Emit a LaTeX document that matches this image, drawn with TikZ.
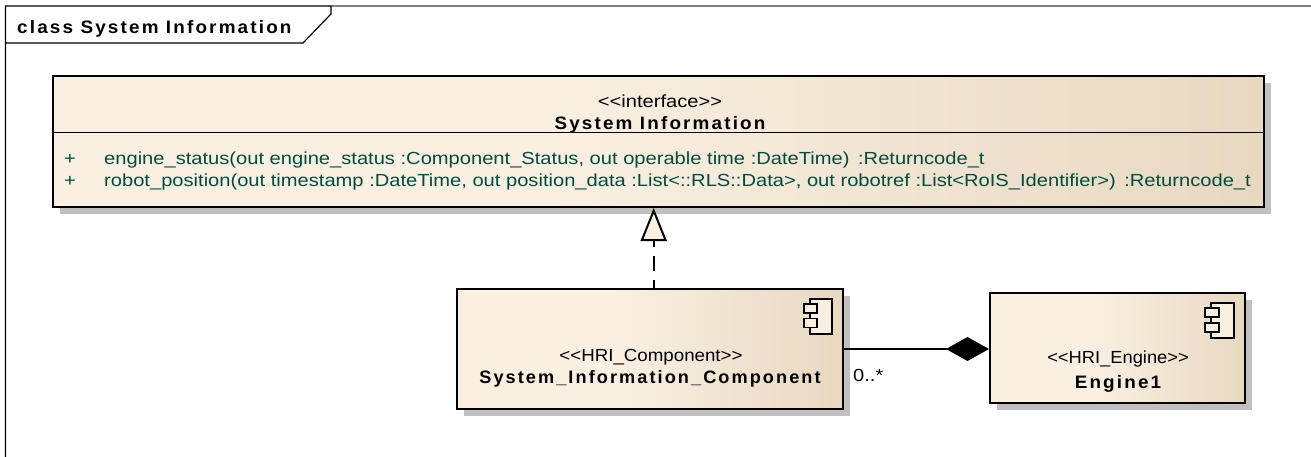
\documentclass[tikz,border=0pt]{standalone}
\usepackage{graphicx}
\usepackage{fontspec}
\setmainfont{Liberation Sans}
\newfontfamily\bodystretch[FakeStretch=1.15]{Liberation Sans}
\newfontfamily\boldspaced[LetterSpace=12,FakeStretch=1.05]{Liberation Sans Bold}
\usetikzlibrary{arrows.meta,shadows}
\definecolor{cream}{HTML}{FAF0E2}
\definecolor{tan}{HTML}{E8D8C0}
\definecolor{shadowgray}{HTML}{C0C0C0}
\definecolor{optext}{HTML}{004D40}
\definecolor{framegray}{HTML}{808080}
\pgfdeclarehorizontalshading{umlfill}{100bp}{color(0bp)=(cream); color(45bp)=(cream); color(75bp)=(tan); color(100bp)=(tan)}
\tikzset{
  umlbox/.style={rectangle,draw=black,line width=2pt,shading=umlfill,inner sep=0pt,
    general shadow={shadow xshift=7pt,shadow yshift=-7pt,fill=shadowgray}},
  iconrect/.style={rectangle,draw=black,line width=1.4pt,fill=cream,inner sep=0pt},
  stereo/.style={font=\fontsize{17.5}{20}\bodystretch,text=black,inner sep=0pt,anchor=base},
  boldname/.style={font=\fontsize{18}{20}\boldspaced,text=black,inner sep=0pt,anchor=base},
  optxt/.style={font=\fontsize{17.5}{20}\bodystretch,text=optext,inner sep=0pt,anchor=base west},
  conn/.style={draw=black,line width=2pt},
}
\begin{document}
\begin{tikzpicture}[x=1pt,y=-1pt]
\useasboundingbox (0,0) rectangle (1311,457);
\fill[white] (0,0) rectangle (1311,457);
% frame
\draw[framegray,line width=1.2pt] (331,6) -- (1311,6);
\draw[black,line width=1.2pt] (5.5,457) -- (5.5,6) -- (331,6) -- (331,14) -- (303,43) -- (5.5,43);
\node[boldname,anchor=base west] (frametitle) at (17,33.5) {class System Information};
% interface
\node[umlbox,minimum width=1211pt,minimum height=131pt] (iface) at (658.5,141.5) {};
\coordinate (divL) at (53,132.5);
\coordinate (divR) at (1264,132.5);
\draw[black,line width=1.7pt] (divL) -- (divR);
\node[stereo] (ifstereo) at (660,108) {<{}<interface>{}>};
\node[boldname] (ifname) at (660,130) {System Information};
\node[optxt] (p1) at (64,164.5) {+};
\node[optxt] (p2) at (64,186.5) {+};
\node[optxt] (op1) at (104,164.5) {engine\_status(out engine\_status :Component\_Status, out operable time :DateTime)\hspace{3pt} :Returncode\_t};
\node[optxt] (op2) at (104,186.5) {robot\_position(out timestamp :DateTime, out position\_data :List<::RLS::Data>, out robotref :List<RoIS\_Identifier>)\hspace{3pt} :Returncode\_t};
% component
\node[umlbox,minimum width=386.5pt,minimum height=120.5pt] (comp) at (649.75,349) {};
\node[stereo] (cstereo) at (651,361) {\scalebox{0.93}[1]{<{}<HRI\_Component>{}>}};
\node[boldname] (cname) at (650,383) {\scalebox{0.96}[1]{System\_Information\_Component}};
\node[iconrect,minimum width=22pt,minimum height=35pt] (cicon) at (821,316.5) {};
\node[iconrect,minimum width=13pt,minimum height=9pt] (ciconA) at (810.5,308.5) {};
\node[iconrect,minimum width=13pt,minimum height=9pt] (ciconB) at (810.5,323) {};
% engine
\node[umlbox,minimum width=255pt,minimum height=110pt] (eng) at (1117.5,348) {};
\node[stereo] (estereo) at (1118,363.5) {\scalebox{0.91}[1]{<{}<HRI\_Engine>{}>}};
\node[boldname] (ename) at (1118,388) {Engine1};
\node[iconrect,minimum width=23pt,minimum height=35pt] (eicon) at (1222.5,320.5) {};
\node[iconrect,minimum width=14pt,minimum height=9pt] (eiconA) at (1212,312.5) {};
\node[iconrect,minimum width=14pt,minimum height=9pt] (eiconB) at (1212,327.5) {};
% connectors
\coordinate (realTop) at (653.7,288);
\draw[conn,dash pattern=on 15pt off 9pt,dash phase=7pt,-{Triangle[open,length=33pt,width=26pt,fill=cream,line width=2pt,sep=0pt]}] (realTop) -- (realTop |- iface.south);
\draw[conn,{Diamond[length=43pt,width=24pt,fill=black]}-] (eng.west |- 0,349) -- (comp.east |- 0,349);
\node[font=\fontsize{17.5}{20}\bodystretch,inner sep=0pt,anchor=base west] (mult) at (853,381) {0..*};
\end{tikzpicture}
\end{document}
